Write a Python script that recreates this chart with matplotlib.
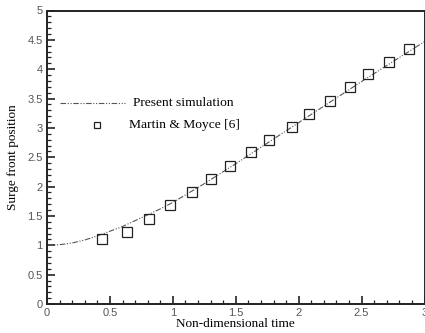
import matplotlib
matplotlib.use("Agg")
import matplotlib.pyplot as plt
import numpy as np
from matplotlib.ticker import MultipleLocator
from matplotlib.lines import Line2D

# Present simulation (curve)
sim_t = [0.0, 0.1, 0.2, 0.3, 0.4, 0.5, 0.6, 0.7, 0.8, 0.9, 1.0, 1.25, 1.5, 1.75, 2.0, 2.25, 2.5, 2.75, 3.0]
sim_x = [1.00, 1.01, 1.04, 1.09, 1.16, 1.24, 1.32, 1.42, 1.52, 1.62, 1.73, 2.05, 2.39, 2.74, 3.09, 3.44, 3.79, 4.13, 4.47]

# Martin & Moyce [6] (experimental)
exp_t = [0.437, 0.633, 0.807, 0.976, 1.151, 1.307, 1.458, 1.624, 1.765, 1.944, 2.08, 2.25, 2.41, 2.553, 2.714, 2.873]
exp_x = [1.10, 1.22, 1.44, 1.68, 1.90, 2.13, 2.355, 2.59, 2.80, 3.015, 3.24, 3.45, 3.69, 3.91, 4.12, 4.35]

xticks = [0, 0.5, 1, 1.5, 2, 2.5, 3]
yticks = [0, 0.5, 1, 1.5, 2, 2.5, 3, 3.5, 4, 4.5, 5]
xticklabels = ["0", "0.5", "1", "1.5", "2", "2.5", "3"]
yticklabels = ["0", "0.5", "1", "1.5", "2", "2.5", "3", "3.5", "4", "4.5", "5"]

fig = plt.figure(figsize=(4.25, 3.33), dpi=100)
ax = fig.add_axes([47/425, 29/333, 377.5/425, 293.5/333])

dash = (0, (5, 1.5, 1, 1.5, 1, 1.5))
ax.plot(sim_t, sim_x, color="#555555", lw=0.8, linestyle=dash)
ax.plot(exp_t, exp_x, linestyle="none", marker="s", markersize=7.5,
        markerfacecolor="none", markeredgecolor="#222222", markeredgewidth=0.9)

ax.set_xlim(0, 3)
ax.set_ylim(0, 5)
ax.set_xticks(xticks)
ax.set_xticklabels(xticklabels)
ax.set_yticks(yticks)
ax.set_yticklabels(yticklabels)
ax.xaxis.set_minor_locator(MultipleLocator(0.1))
ax.yaxis.set_minor_locator(MultipleLocator(0.1))
ax.tick_params(which="major", direction="in", length=6, width=1.2, colors="#222222",
               labelcolor="#555555", labelsize=8, pad=3, top=False, right=False)
ax.tick_params(which="minor", direction="in", length=3, width=0.9, colors="#222222",
               top=False, right=False)
for lab in ax.get_xticklabels() + ax.get_yticklabels():
    lab.set_fontfamily("Liberation Sans")
for s in ax.spines.values():
    s.set_linewidth(1.4)
    s.set_color("#222222")

ax.set_xlabel("Non-dimensional time", family="Liberation Serif", fontsize=9.5, labelpad=0)
ax.set_ylabel("Surge front position", family="Liberation Serif", fontsize=9.5, labelpad=6)

# Legend (manual placement to mimic original)
ax.add_line(Line2D([13/126, 78/126], [3.43, 3.43], color="#555555", lw=0.8, linestyle=dash,
                   transform=ax.transData))
ax.plot([50/126], [3.05], linestyle="none", marker="s", markersize=4.5,
        markerfacecolor="none", markeredgecolor="#222222", markeredgewidth=0.9)
ax.text(86/126, 3.43, "Present simulation", family="Liberation Serif", fontsize=9.7,
        va="center", ha="left")
ax.text(82/126, 3.05, "Martin & Moyce [6]", family="Liberation Serif", fontsize=9.7,
        va="center", ha="left")

fig.savefig("out.png", dpi=100)
